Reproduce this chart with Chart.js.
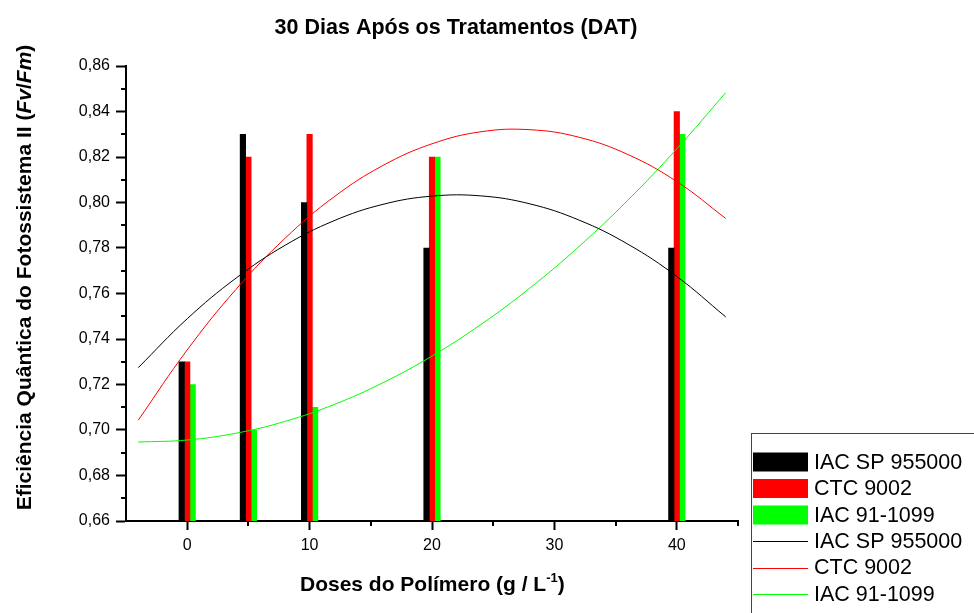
<!DOCTYPE html>
<html>
<head>
<meta charset="utf-8">
<script src="https://cdn.jsdelivr.net/npm/chart.js@4.4.1/dist/chart.umd.min.js"></script>
<style>
  html, body { margin: 0; padding: 0; background: #fff; }
  #wrap { width: 974px; height: 613px; }
</style>
</head>
<body>
<div id="wrap"><canvas id="c" width="974" height="613"></canvas></div>
<script>
// Polymer doses (g/L) where the cultivars were measured
const doses = [0, 5, 10, 20, 40];

// Measured Fv/Fm per cultivar
const iacSp955000 = [0.73, 0.83, 0.80, 0.78, 0.78];
const ctc9002     = [0.73, 0.82, 0.83, 0.82, 0.84];
const iac911099   = [0.72, 0.70, 0.71, 0.82, 0.83];

// Fitted regression curves, sampled along the dose axis
const curveDoses  = [-4, 0, 4, 8, 12, 16, 20, 24, 28, 32, 36, 40, 44];
const fitIacSp    = [0.7274, 0.7489, 0.7668, 0.7812, 0.7920, 0.7992, 0.8028, 0.8029, 0.7994, 0.7923, 0.7817, 0.7675, 0.7497];
const fitCtc      = [0.7043, 0.7352, 0.7619, 0.7843, 0.8025, 0.8163, 0.8258, 0.8311, 0.8320, 0.8287, 0.8211, 0.8092, 0.7930];
const fitIac91    = [0.6947, 0.6956, 0.6986, 0.7038, 0.7112, 0.7208, 0.7325, 0.7464, 0.7624, 0.7806, 0.8010, 0.8236, 0.8483];

// Axis ticks
const xTicks = [0, 10, 20, 30, 40];
const xMinorTicks = [5, 15, 25, 35, 45];
const yMinorTicks = [0.67, 0.69, 0.71, 0.73, 0.75, 0.77, 0.79, 0.81, 0.83, 0.85];

const seriesNames = ['IAC SP 955000', 'CTC 9002', 'IAC 91-1099'];
const seriesColors = ['#000000', '#ff0000', '#00ff00'];

const FONT = '"Liberation Sans", Arial, sans-serif';

const pts = (xs, ys) => xs.map((x, i) => ({ x: x, y: ys[i] }));

const barSet = (i, vals) => ({
  type: 'bar',
  label: seriesNames[i],
  data: pts(doses, vals),
  backgroundColor: seriesColors[i],
  borderWidth: 0,
  barThickness: 5.5,
  order: 1
});
const lineSet = (i, vals) => ({
  type: 'line',
  label: seriesNames[i],
  data: pts(curveDoses, vals),
  borderColor: seriesColors[i],
  backgroundColor: seriesColors[i],
  borderWidth: 1,
  pointRadius: 0,
  tension: 0.4,
  fill: false,
  order: 0
});

// Titles, minor ticks and the boxed legend
const decorations = {
  id: 'decorations',
  afterDraw(chart) {
    const ctx = chart.ctx;
    const xs = chart.scales.x, ys = chart.scales.y;
    const area = chart.chartArea;
    ctx.save();

    // minor ticks
    ctx.strokeStyle = '#000';
    ctx.lineWidth = 2;
    ctx.beginPath();
    yMinorTicks.forEach(v => {
      const p = Math.round(ys.getPixelForValue(v));
      ctx.moveTo(area.left, p);
      ctx.lineTo(area.left - 5, p);
    });
    xMinorTicks.forEach(v => {
      const p = Math.round(xs.getPixelForValue(v));
      ctx.moveTo(p, area.bottom);
      ctx.lineTo(p, area.bottom + 5);
    });
    ctx.stroke();

    ctx.fillStyle = '#000';
    ctx.textBaseline = 'alphabetic';

    // chart title
    ctx.font = 'bold 21.5px ' + FONT;
    ctx.textAlign = 'center';
    ctx.fillText('30 Dias Após os Tratamentos (DAT)', 456, 34);

    // x axis title with superscript
    ctx.textAlign = 'left';
    let x = 300;
    const xb = 591;
    ctx.font = 'bold 21px ' + FONT;
    const t1 = 'Doses do Polímero (g / L';
    ctx.fillText(t1, x, xb);
    x += ctx.measureText(t1).width;
    ctx.font = 'bold 13px ' + FONT;
    ctx.fillText('-1', x, xb - 9);
    x += ctx.measureText('-1').width;
    ctx.font = 'bold 21px ' + FONT;
    ctx.fillText(')', x, xb);

    // y axis title, rotated, with italic Fv / Fm
    const segs = [
      ['Eficiência Quântica do Fotossistema II (', false],
      ['Fv', true], ['/', false], ['Fm', true], [')', false]
    ];
    const fontFor = it => (it ? 'italic ' : '') + 'bold 21px ' + FONT;
    let total = 0;
    segs.forEach(s => { ctx.font = fontFor(s[1]); total += ctx.measureText(s[0]).width; });
    ctx.translate(31, 277.5);
    ctx.rotate(-Math.PI / 2);
    let sx = -total / 2;
    segs.forEach(s => {
      ctx.font = fontFor(s[1]);
      ctx.fillText(s[0], sx, 0);
      sx += ctx.measureText(s[0]).width;
    });
    ctx.setTransform(1, 0, 0, 1, 0, 0);

    // legend box
    ctx.strokeStyle = '#444';
    ctx.lineWidth = 1;
    ctx.strokeRect(751.5, 433.5, 260, 200);
    ctx.font = '21.5px ' + FONT;
    ctx.textBaseline = 'middle';
    const rowY = [462, 488.5, 515, 541, 567.5, 594];
    const sets = chart.data.datasets;
    sets.forEach((ds, i) => {
      const cy = rowY[i];
      if (ds.type === 'bar') {
        ctx.fillStyle = ds.backgroundColor;
        ctx.fillRect(753, cy - 9.5, 55, 19);
      } else {
        ctx.strokeStyle = ds.borderColor;
        ctx.lineWidth = 1;
        ctx.beginPath();
        ctx.moveTo(753, Math.round(cy) + 0.5);
        ctx.lineTo(808, Math.round(cy) + 0.5);
        ctx.stroke();
      }
      ctx.fillStyle = '#000';
      ctx.fillText(ds.label, 814, cy + 1);
    });
    ctx.restore();
  }
};

new Chart(document.getElementById('c'), {
  type: 'bar',
  data: {
    datasets: [
      barSet(0, iacSp955000),
      barSet(1, ctc9002),
      barSet(2, iac911099),
      lineSet(0, fitIacSp),
      lineSet(1, fitCtc),
      lineSet(2, fitIac91)
    ]
  },
  options: {
    responsive: false,
    animation: false,
    devicePixelRatio: 1,
    layout: { padding: { top: 66, right: 236, bottom: 0, left: 0 } },
    plugins: {
      legend: { display: false },
      title: { display: false },
      tooltip: { enabled: false }
    },
    scales: {
      x: {
        type: 'linear',
        min: -5,
        max: 45,
        offset: false,
        afterBuildTicks: s => { s.ticks = xTicks.map(v => ({ value: v })); },
        afterFit: s => { s.height = 92; },
        ticks: { color: '#000', font: { family: FONT, size: 16 }, padding: 6, maxRotation: 0 },
        grid: { display: true, offset: false, drawOnChartArea: false, drawTicks: true, tickLength: 9, tickWidth: 2, tickColor: '#000' },
        border: { display: true, color: '#000', width: 2 }
      },
      y: {
        type: 'linear',
        min: 0.66,
        max: 0.86,
        beginAtZero: false,
        afterFit: s => { s.width = 126; },
        ticks: {
          stepSize: 0.02,
          color: '#000',
          font: { family: FONT, size: 16 },
          padding: 6,
          callback: v => v.toFixed(2).replace('.', ',')
        },
        grid: { display: true, drawOnChartArea: false, drawTicks: true, tickLength: 10, tickWidth: 2, tickColor: '#000' },
        border: { display: true, color: '#000', width: 2 }
      }
    }
  },
  plugins: [decorations]
});
</script>
</body>
</html>
